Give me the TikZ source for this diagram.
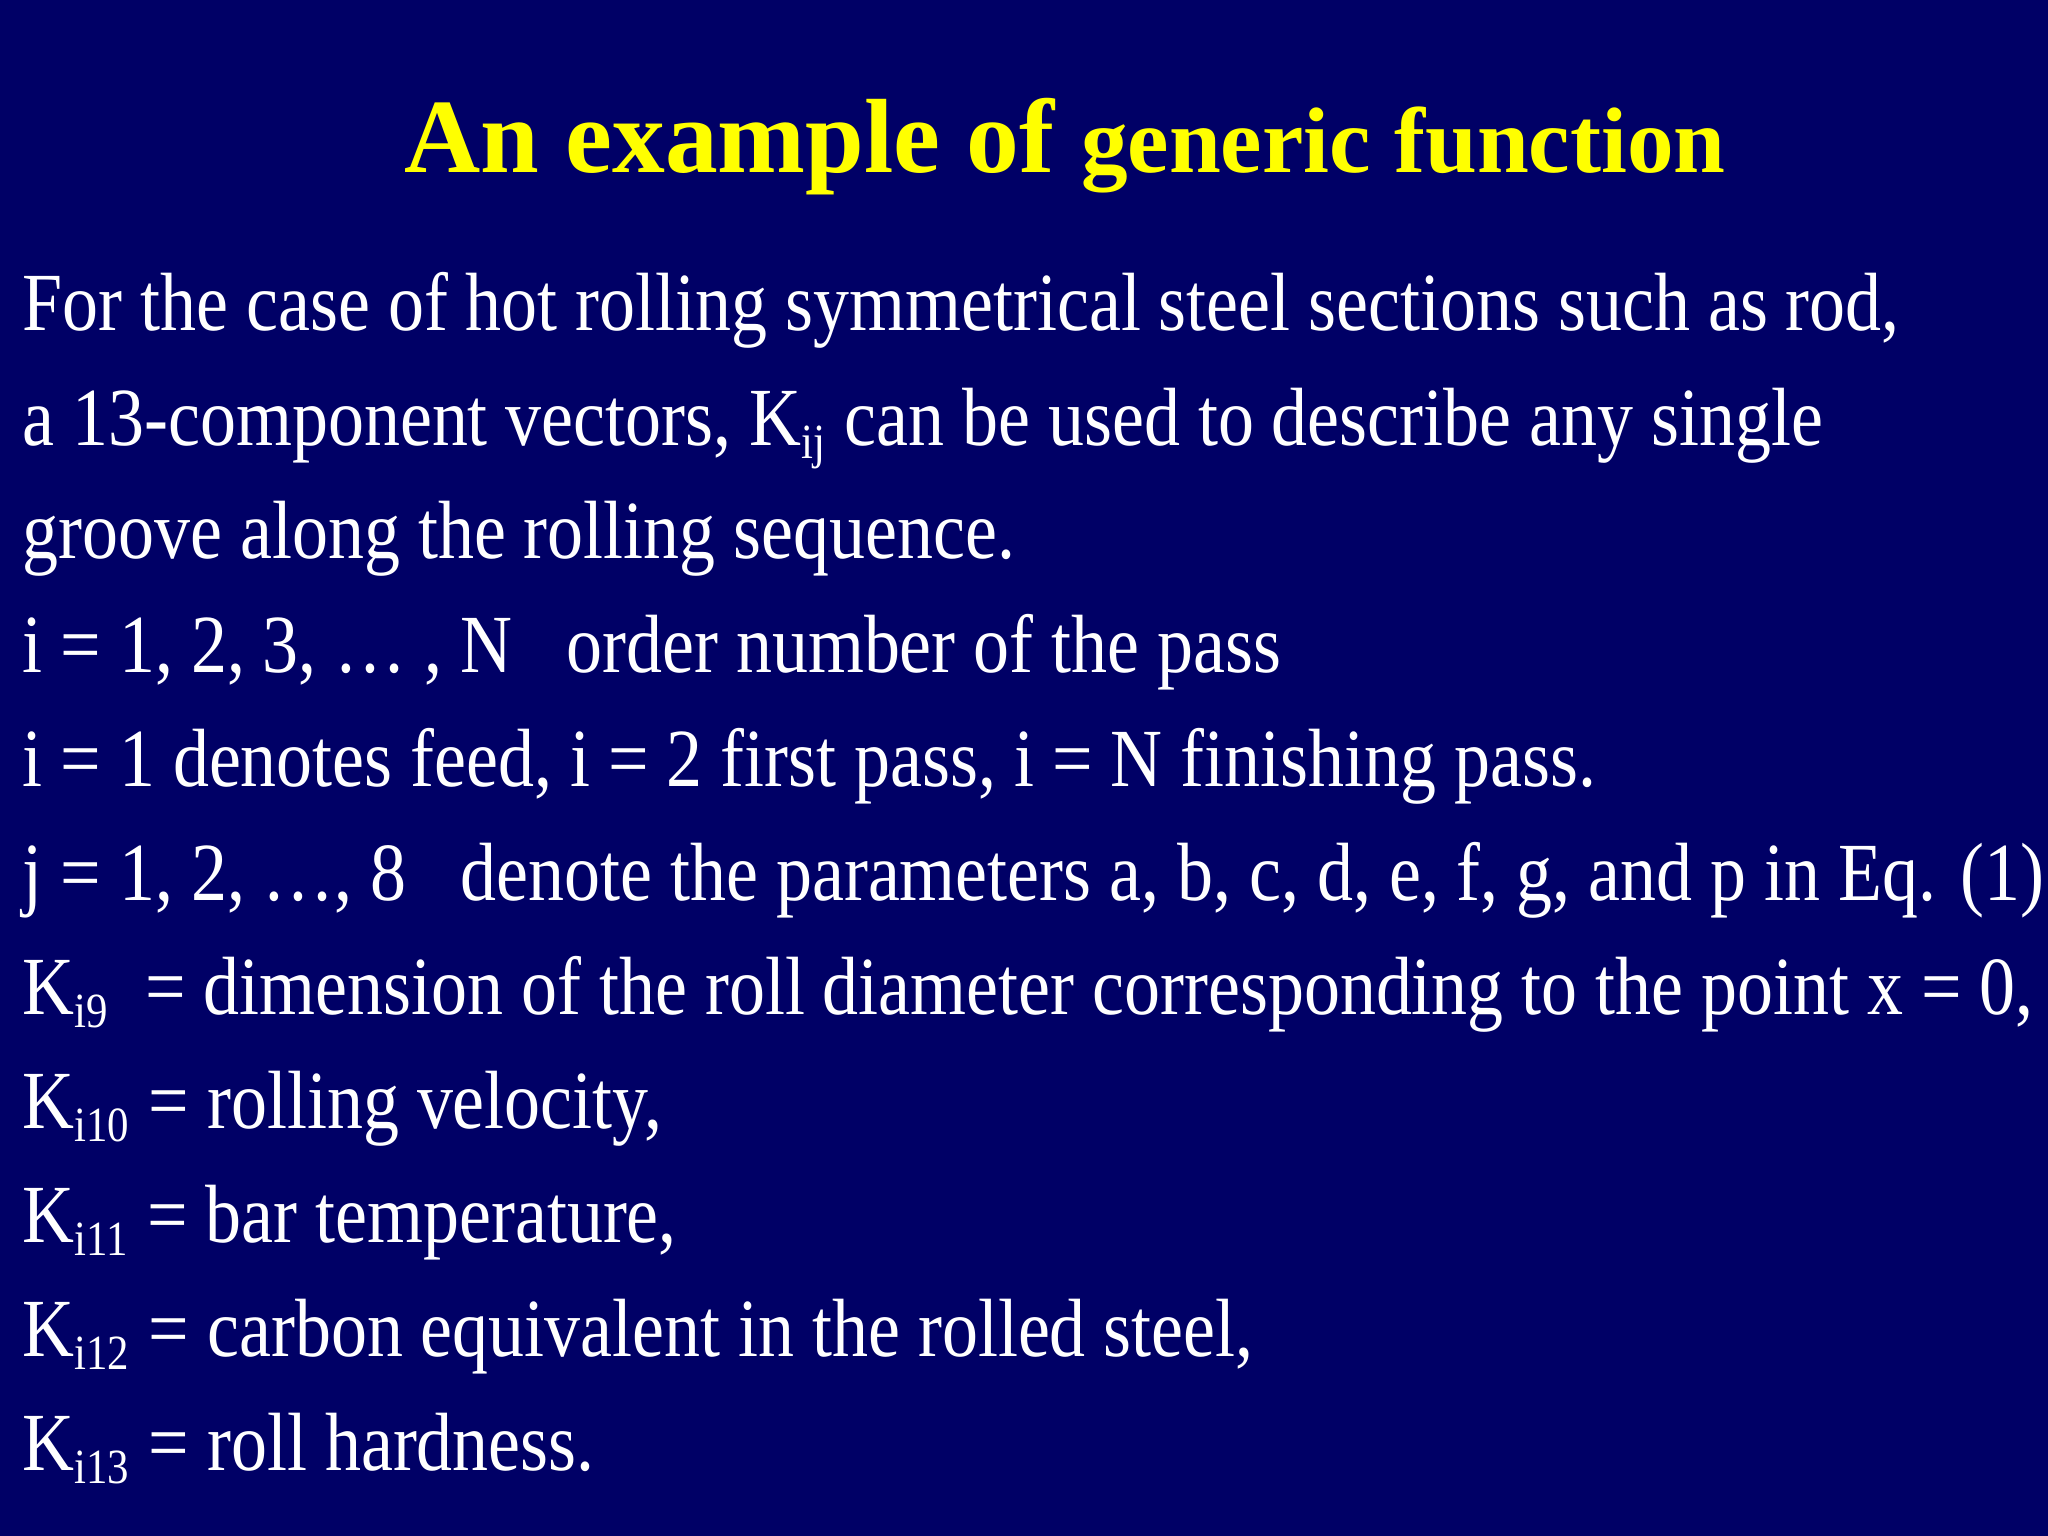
\documentclass[tikz,border=0pt]{standalone}
\usepackage{fontspec}
\setmainfont{Liberation Serif}
\definecolor{bg}{HTML}{000066}
\definecolor{ttl}{HTML}{FFFF00}
\begin{document}
\begin{tikzpicture}[x=0.01cm,y=-0.01cm]
\tikzset{ln/.style={anchor=base west,inner sep=0pt,text=white,font=\fontsize{23.5}{23.5}\selectfont}}
\newcommand{\sq}[1]{\scalebox{0.87}[1]{#1}}
\newcommand{\sbs}[1]{$_{\mbox{\fontsize{14}{14}\selectfont #1}}$}
\fill[bg] (0,0) rectangle (2048,1536);
\useasboundingbox (0,0) rectangle (2048,1536);
\clip (0,0) rectangle (2048,1536);
\node[anchor=base,inner sep=0pt,text=ttl,font=\bfseries] (t) at (1065,172) {{\fontsize{30}{30}\selectfont An example of }{\fontsize{26.5}{26.5}\selectfont generic function}};
\node[ln] (l1) at (22,330) {\sq{For the case of hot rolling symmetrical steel sections such as rod,}};
\node[ln] (l2) at (22,445) {\sq{a 13-component vectors, K\sbs{ij} can be used to describe any single}};
\node[ln] (l3) at (22,558) {\sq{groove along the rolling sequence.}};
\node[ln] (l4) at (22,672) {\sq{i = 1, 2, 3, \dots\ , N \ \ order number of the pass}};
\node[ln] (l5) at (22,786) {\sq{i = 1 denotes feed, i = 2 first pass, i = N finishing pass.}};
\node[ln] (l6) at (22,900) {\sq{j = 1, 2, \dots, 8 \ \ denote the parameters a, b, c, d, e, f, g, and p in Eq. (1)}};
\node[ln] (l7) at (22,1014) {\sq{K\sbs{i9} \ = dimension of the roll diameter corresponding to the point x = 0,}};
\node[ln] (l8) at (22,1128) {\sq{K\sbs{i10} = rolling velocity,}};
\node[ln] (l9) at (22,1242) {\sq{K\sbs{i11} = bar temperature,}};
\node[ln] (l10) at (22,1356) {\sq{K\sbs{i12} = carbon equivalent in the rolled steel,}};
\node[ln] (l11) at (22,1470) {\sq{K\sbs{i13} = roll hardness.}};
\end{tikzpicture}
\end{document}
